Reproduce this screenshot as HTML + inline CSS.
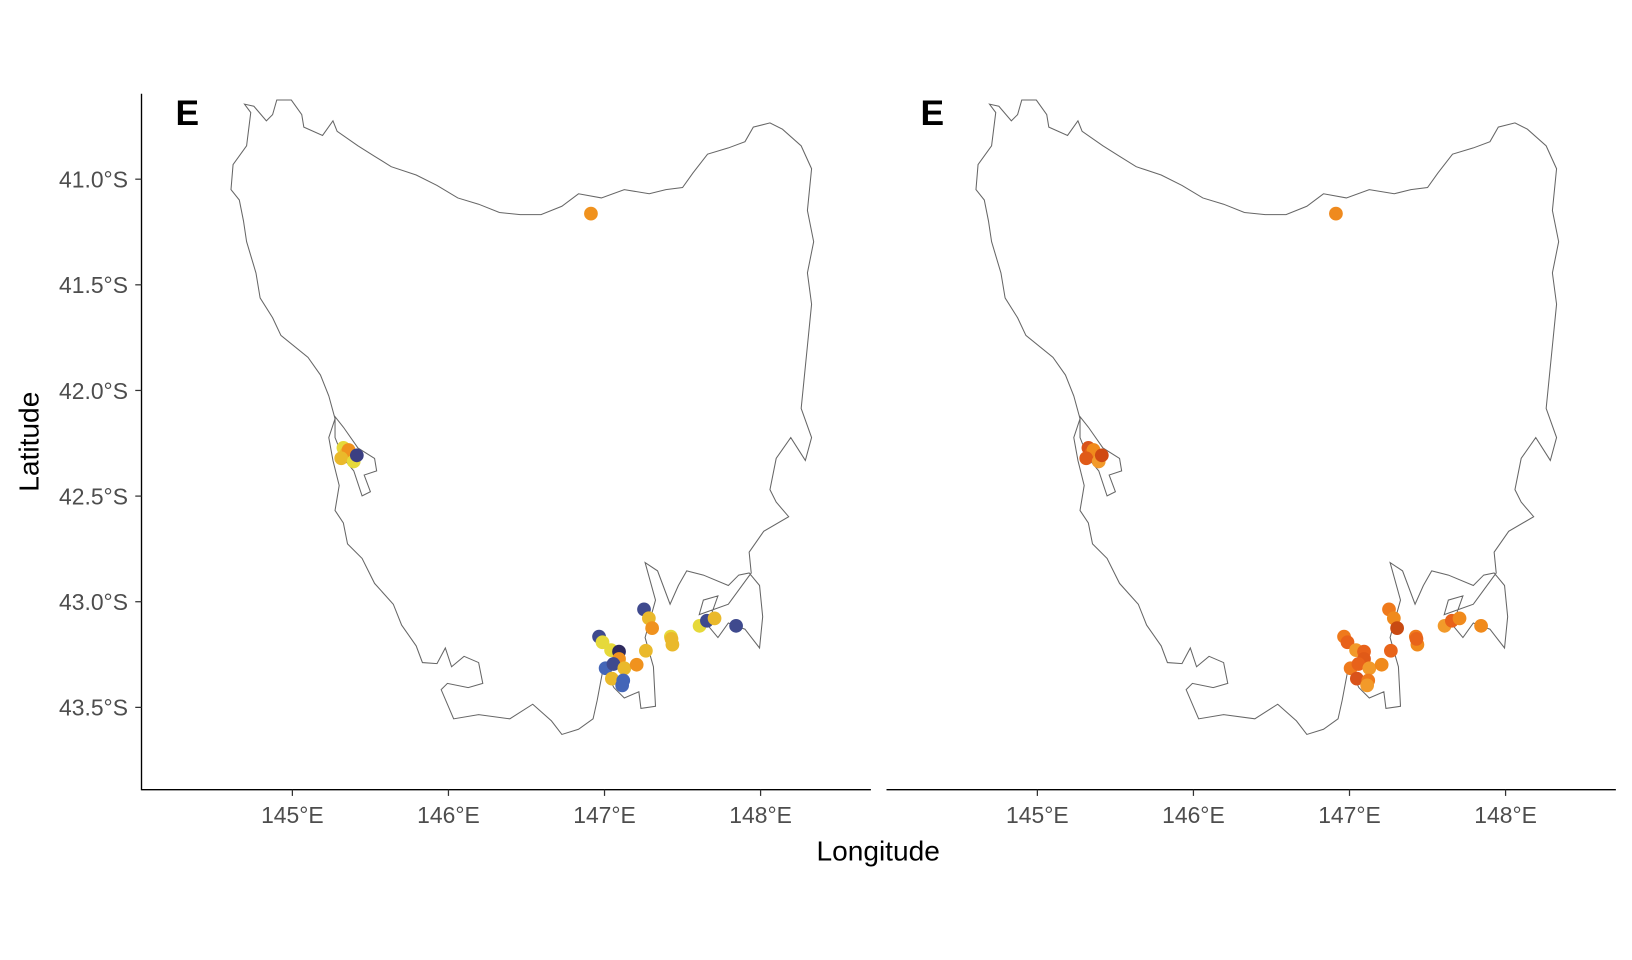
<!DOCTYPE html>
<html><head><meta charset="utf-8"><style>
html,body{margin:0;padding:0;background:#fff;}
svg{display:block;font-family:"Liberation Sans",sans-serif;}
</style></head><body>
<svg id="chart" width="1632" height="960" viewBox="0 0 1568.5 921.5" preserveAspectRatio="none" xmlns="http://www.w3.org/2000/svg">
<defs>
<path id="coast" d="M235,100 L241,108 L237,140 L224,158 L222,182 L230,192 L234,212 L237,232 L246,262 L250,286 L262,305 L270,322 L296,343 L308,360 L316,380 L322,402 L316,420 L320,442 L326,466 L322,490 L330,502 L334,522 L348,536 L360,560 L378,580 L386,600 L400,620 L406,636 L420,637 L428,622 L434,640 L446,630 L460,636 L464,656 L450,660 L430,656 L424,662 L436,690 L460,686 L490,690 L512,676 L530,692 L540,705 L556,700 L570,690 L574,672 L580,640 L590,660 L600,670 L614,664 L616,680 L630,678 L628,640 L620,612 L630,576 L620,540 L632,548 L644,580 L652,562 L660,548 L676,552 L700,562 L710,552 L720,550 L730,562 L733,592 L730,622 L716,604 L700,598 L690,612 L680,600 L690,572 L676,576 L672,590 L700,580 L722,550 L720,530 L734,510 L758,496 L746,482 L740,470 L746,440 L760,420 L774,442 L780,420 L770,392 L776,332 L780,292 L776,262 L782,232 L776,202 L780,162 L770,140 L752,124 L740,118 L724,122 L716,136 L700,142 L680,148 L666,166 L656,180 L640,182 L624,186 L600,182 L578,190 L556,186 L540,198 L520,206 L500,206 L480,204 L460,196 L440,190 L420,178 L400,168 L376,160 L360,150 L344,140 L324,126 L320,116 L310,130 L292,122 L290,110 L280,96 L266,96 L262,110 L256,116 L244,102 Z M322,400 L330,410 L344,430 L360,440 L362,452 L350,456 L356,472 L348,476 L340,452 L330,440 L322,420 Z" fill="none" stroke="#666" stroke-width="1"/>
</defs>
<g id="panel-left">
  <use href="#coast"/>
  <text x="180" y="120" font-size="34" font-weight="bold" text-anchor="middle">E</text>
  <g id="pts-left"></g>
  <line x1="136" y1="90" x2="136" y2="758.5" stroke="#000" stroke-width="1.3"/>
  <line x1="136" y1="758" x2="837" y2="758" stroke="#000" stroke-width="1.3"/>
  <g id="yticks"></g>
  <g id="xticks-left"></g>
</g>
<g id="panel-right">
  <use href="#coast" transform="translate(716,0)"/>
  <text x="896" y="120" font-size="34" font-weight="bold" text-anchor="middle">E</text>
  <g id="pts-right"></g>
  <line x1="852" y1="758" x2="1553" y2="758" stroke="#000" stroke-width="1.3"/>
  <g id="xticks-right"></g>
</g>
<text x="844" y="826" font-size="27" text-anchor="middle">Longitude</text>
<text transform="translate(37,424) rotate(-90)" font-size="27" text-anchor="middle">Latitude</text>
</svg>
<script>
const lons = [146.913,145.327,145.347,145.36,145.313,145.393,145.413,147.253,147.284,147.305,146.965,146.987,147.042,147.093,147.093,147.007,147.057,147.127,147.206,147.047,147.12,147.113,147.265,147.425,147.435,147.429,147.609,147.656,147.705,147.843];
const lats = [41.163,42.272,42.297,42.282,42.321,42.336,42.307,43.036,43.078,43.125,43.165,43.192,43.229,43.236,43.271,43.315,43.295,43.315,43.298,43.364,43.373,43.396,43.232,43.165,43.203,43.176,43.114,43.09,43.079,43.114];
const colorsLeft = ["#f0921e","#e6d93a","#eab92b","#f0921e","#eab92b","#e6d93a","#3b3f82","#3f4a8e","#eab92b","#f0921e","#3f4a8e","#e6d93a","#e6d93a","#2e2a5e","#f0921e","#4466b8","#3f4a8e","#eab92b","#f0921e","#eab92b","#4466b8","#4466b8","#eab92b","#e6d93a","#eab92b","#eab92b","#e6d93a","#3f4a8e","#eab92b","#3f4a8e"];
const colorsRight = ["#ef8a1e","#d9531a","#e8641a","#f08a1c","#e05a18","#f29a2a","#d04a12","#ef7a1c","#f08a1c","#c84a12","#ef7a1c","#e8621a","#f29a2a","#e8621a","#e05a18","#ef7a1c","#e8621a","#f29a2a","#f08a1c","#d9531a","#ef7a1c","#f29a2a","#e8641a","#ef7a1c","#f08a1c","#e8641a","#f29a2a","#e8621a","#f08a1c","#f08a1c"];
const xTicks = [145,146,147,148];
const xTickLabels = ["145°E","146°E","147°E","148°E"];
const yTicks = [41.0,41.5,42.0,42.5,43.0,43.5];
const yTickLabels = ["41.0°S","41.5°S","42.0°S","42.5°S","43.0°S","43.5°S"];

const NS="http://www.w3.org/2000/svg";
function xScale(lon, off){ return 281 + (lon-145)*150 + off; }
function yScale(lat){ return 172 + (lat-41)*202.8; }
function mk(tag, attrs, parent){ const e=document.createElementNS(NS,tag); for(const k in attrs) e.setAttribute(k,attrs[k]); parent.appendChild(e); return e; }

function drawPoints(gid, colors, off){
  const g=document.getElementById(gid);
  for(let i=0;i<lons.length;i++){
    const c=mk('circle',{cx:xScale(lons[i],off),cy:yScale(lats[i]),r:6.6,fill:colors[i]},g);
    
    
  }
}
drawPoints('pts-left', colorsLeft, 0);
drawPoints('pts-right', colorsRight, 716);

function drawXTicks(gid, off){
  const g=document.getElementById(gid);
  xTicks.forEach((v,i)=>{
    const x=xScale(v,off);
    const l=mk('line',{x1:x,y1:758,x2:x,y2:764,stroke:'#333','stroke-width':1.2},g);
    
    
    const t=mk('text',{x:x,y:790,'font-size':22,fill:'#4d4d4d','text-anchor':'middle'},g);
    t.textContent=xTickLabels[i];
    
    
  });
}
drawXTicks('xticks-left',0);
drawXTicks('xticks-right',716);

const yg=document.getElementById('yticks');
yTicks.forEach((v,i)=>{
  const y=yScale(v);
  const l=mk('line',{x1:130,y1:y,x2:136,y2:y,stroke:'#333','stroke-width':1.2},yg);
  
  
  const t=mk('text',{x:123,y:y+8,'font-size':22,fill:'#4d4d4d','text-anchor':'end'},yg);
  t.textContent=yTickLabels[i];
  
  
});
</script>
</body></html>
